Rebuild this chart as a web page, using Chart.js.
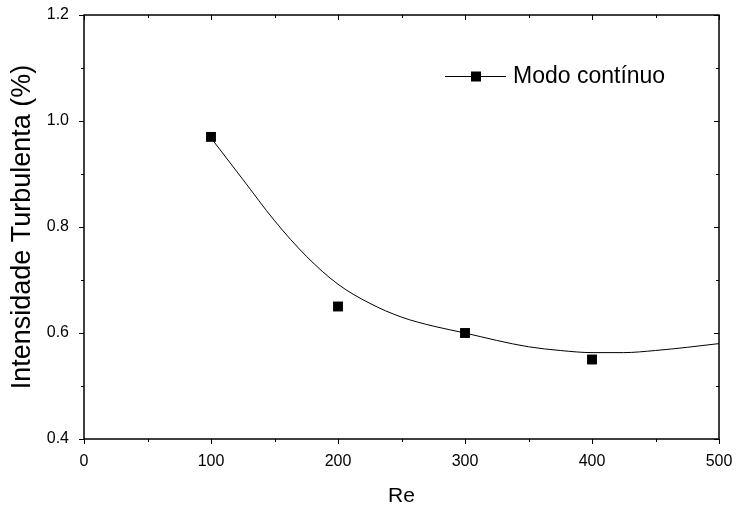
<!DOCTYPE html>
<html>
<head>
<meta charset="utf-8">
<script src="https://cdn.jsdelivr.net/npm/chart.js@4"></script>
<style>
  html, body { margin: 0; padding: 0; background: #fff; }
  #wrap { width: 736px; height: 506px; }
</style>
</head>
<body>
<div id="wrap"><canvas id="myChart" width="736" height="506"></canvas></div>
<script>
// measured points
const reValues = [100, 200, 300, 400];
const intensity = [0.97, 0.65, 0.60, 0.55];

// fitted curve
const curveRe = [100, 125, 150, 175, 200, 225, 250, 275, 300, 325, 350, 375, 400, 425, 450, 475, 500];
const curveVals = [0.968, 0.89, 0.812, 0.745, 0.692, 0.656, 0.630, 0.613, 0.600, 0.586, 0.574, 0.567, 0.563, 0.563, 0.567, 0.573, 0.580];

const xTicks = [0, 100, 200, 300, 400, 500];
const yTicks = [0.4, 0.6, 0.8, 1.0, 1.2];

const legendLabel = 'Modo contínuo';
const xTitle = 'Re';
const yTitle = 'Intensidade Turbulenta (%)';

const ctx = document.getElementById('myChart');

// frame + tick marks (out on left/bottom, in on top/right)
const frameTicks = {
    id: 'frameTicks',
    afterDraw(chart) {
        const c = chart.ctx;
        const a = chart.chartArea;
        const xs = chart.scales.x, ys = chart.scales.y;
        c.save();
        c.strokeStyle = '#000';
        c.lineWidth = 1.5;
        c.strokeRect(a.left, a.top, a.right - a.left, a.bottom - a.top);
        c.lineWidth = 1;
        c.beginPath();
        for (let v = 0; v <= 500; v += 50) {
            const px = Math.round(xs.getPixelForValue(v)) + 0.5;
            const len = v % 100 === 0 ? 5 : 3;
            c.moveTo(px, a.bottom); c.lineTo(px, a.bottom + len);
            c.moveTo(px, a.top); c.lineTo(px, a.top + len);
        }
        for (let i = 0; i <= 8; i++) {
            const v = 0.4 + i * 0.1;
            const py = Math.round(ys.getPixelForValue(v)) + 0.5;
            const len = i % 2 === 0 ? 5 : 3;
            c.moveTo(a.left, py); c.lineTo(a.left - len, py);
            c.moveTo(a.right, py); c.lineTo(a.right - len, py);
        }
        c.stroke();

        // legend
        const ly = 76;
        c.beginPath();
        c.moveTo(445, ly + 0.5); c.lineTo(506, ly + 0.5);
        c.stroke();
        c.fillStyle = '#000';
        c.fillRect(471, ly - 4.5, 10, 10);
        c.font = '23px Arial';
        c.textBaseline = 'middle';
        c.fillText(legendLabel, 513, ly + 1);
        c.restore();
    }
};

new Chart(ctx, {
    type: 'scatter',
    data: {
        datasets: [{
            type: 'line',
            label: 'fit',
            data: curveRe.map((x, i) => ({ x: x, y: curveVals[i] })),
            borderColor: '#000',
            borderWidth: 1,
            pointRadius: 0,
            cubicInterpolationMode: 'monotone',
            fill: false
        }, {
            label: legendLabel,
            data: reValues.map((x, i) => ({ x: x, y: intensity[i] })),
            pointStyle: 'rect',
            pointRadius: 7,
            backgroundColor: '#000',
            borderColor: '#000',
            borderWidth: 0
        }]
    },
    options: {
        responsive: false,
        animation: false,
        layout: { padding: { top: 15, right: 17, left: 0, bottom: 0 } },
        plugins: { legend: { display: false }, tooltip: { enabled: false } },
        scales: {
            x: {
                type: 'linear',
                min: 0, max: 500,
                afterBuildTicks: (s) => { s.ticks = xTicks.map(v => ({ value: v })); },
                afterFit: (s) => { s.height = 67; s.paddingLeft = 0; s.paddingRight = 0; },
                grid: { display: false, drawTicks: false },
                border: { display: false },
                ticks: {
                    color: '#000', padding: 13,
                    font: { family: 'Arial', size: 16 }
                },
                title: {
                    display: true, text: xTitle, color: '#000',
                    font: { family: 'Arial', size: 21 },
                    padding: { top: 0, bottom: -3 }
                }
            },
            y: {
                min: 0.4, max: 1.2,
                afterBuildTicks: (s) => { s.ticks = yTicks.map(v => ({ value: v })); },
                afterFit: (s) => { s.width = 84; s.paddingTop = 0; s.paddingBottom = 0; },
                grid: { display: false, drawTicks: false },
                border: { display: false },
                ticks: {
                    color: '#000', padding: 15,
                    font: { family: 'Arial', size: 16 },
                    callback: (v) => v.toFixed(1)
                },
                title: {
                    display: true, text: yTitle, color: '#000',
                    font: { family: 'Arial', size: 27 },
                    padding: { top: 6, bottom: 0 }
                }
            }
        }
    },
    plugins: [frameTicks]
});
</script>
</body>
</html>
